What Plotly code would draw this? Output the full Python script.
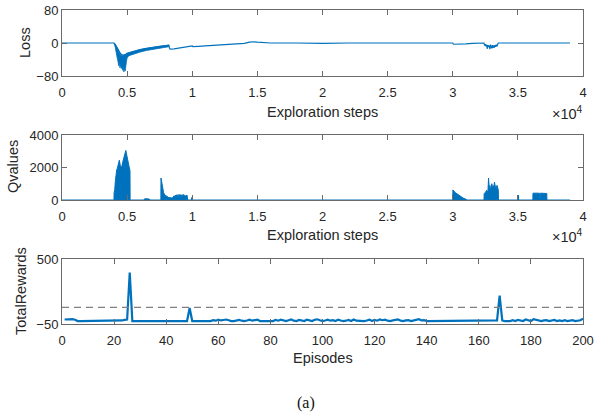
import plotly.graph_objects as go

# ---------------- data ----------------
# Loss (top panel): noisy band region (envelopes) + main trace
band_steps = [4000, 4100, 4200, 4250, 4300, 4350, 4400, 4450, 4500, 4550, 4600, 4650, 4700, 4750,
              4800, 4850, 4900, 4950, 5000, 5100, 5200, 5500, 6000, 6500, 7000, 7500, 8000, 8200]
band_upper = [0, -4, -10, -14, -18, -22, -25, -27, -29, -30, -31, -31, -30, -29,
              -28, -27, -27, -26, -25, -24, -23, -20, -16, -13, -10, -8, -6, -5]
band_lower = [0, -12, -30, -40, -45, -55, -48, -60, -52, -62, -55, -66, -58, -70,
              -62, -68, -55, -45, -36, -32, -30, -26, -22, -18, -15, -12, -10, -9]

loss_steps = [0, 2000, 4000, 4100, 4300, 4500, 4700, 4900, 5000, 5200, 5500, 6000, 6500, 7000,
              7500, 8000, 8200, 8250, 8300, 8600, 9000, 9500, 10000, 10050, 10100, 10500, 11000,
              12000, 13000, 14000, 14400, 14700, 15000, 15500, 16000, 18000, 20000, 22000, 25000,
              28000, 30000, 30050, 30500, 31000, 31500, 32000, 32400, 32450, 32500, 32550, 32600,
              32650, 32700, 32750, 32800, 32850, 32900, 32950, 33000, 33050, 33100, 33150, 33200,
              33250, 33300, 33350, 33400, 33450, 33500, 34000, 35000, 37000, 39000]
loss_values = [0, 0, 0, -4, -15, -26, -30, -28, -25, -23, -20, -16, -13, -10,
               -8, -6, -5, -12, -15, -14, -12, -10, -7, -9, -9, -8, -7,
               -5, -3, -1, 2, 3, 2, 1, 0, 0, -1, 0, 0,
               0, 0, -3, -3, -2, -1, -1, 0, -6, -3, -8, -4, -14, -5, -10, -6, -15, -4, -9,
               -13, -5, -12, -6, -11, -5, -9, -4, -8, -3, 0, 0, 0, 0, 0]

# Q values (middle panel)
q_steps = [0, 3990, 4000, 4050, 4100, 4150, 4200, 4250, 4300, 4350, 4400, 4450, 4500, 4550,
           4600, 4650, 4700, 4750, 4800, 4850, 4900, 4950, 5000, 5050, 5100, 5150, 5200, 5220,
           5230, 6300, 6350, 6700, 6750, 7590, 7600, 7650, 7700, 7750, 7800, 7900, 8000, 8100,
           8200, 8400, 8500, 8600, 8650, 8700, 8750, 8800, 8850, 8900, 8950, 9000, 9050, 9100,
           9150, 9200, 9250, 9300, 9350, 9400, 9500, 9600, 9650, 9950, 9960, 9980,
           30000, 30010, 30200, 30400, 30600, 30800, 31000, 31100,
           32400, 32410, 32500, 32600, 32700, 32750, 32800, 32850, 32900, 33000, 33050, 33100,
           33150, 33200, 33300, 33400, 33500, 33510, 35040, 35050, 35060,
           36150, 36160, 36650, 36670, 36700, 36720, 37220, 37230, 39000]
q_values = [0, 0, 450, 650, 1200, 1700, 1850, 1950, 2100, 2300, 2450, 2250, 1950, 2050,
            2100, 2300, 2500, 2700, 2800, 2900, 3050, 2800, 2600, 2450, 2250, 2050, 1900, 1800,
            0, 0, 80, 60, 0, 0, 1350, 1100, 800, 550, 450, 300, 250, 200,
            150, 130, 150, 260, 150, 300, 200, 320, 200, 330, 220, 340, 220, 330,
            200, 320, 220, 350, 250, 300, 250, 300, 0, 0, 150, 0,
            0, 620, 450, 330, 220, 120, 50, 0,
            0, 400, 450, 600, 500, 1350, 700, 900, 600, 1000, 700, 900,
            600, 1100, 700, 900, 600, 0, 0, 300, 0,
            0, 420, 420, 0, 0, 420, 400, 0, 0]

# Total rewards (bottom panel)
episodes = list(range(1, 201))
rewards = ([-12, -10, -13, -9, -14] + [-25] * 8 + [-23, -22, -24, -22, -25] + [-25] * 4 +
           [-20, -15, -12] + [385] + [-25] * 22 + [85] + [-25] * 7 +
           [-25, -18, -22, -14, -20, -16, -12, -18, -25, -25, -18, -15, -22, -25, -20, -14, -22, -18, -13, -25] +
           [-25, -25, -25] +
           [-20, -25, -15, -22, -14, -20, -25, -18, -12, -22, -25, -16, -20, -25, -14, -22] +
           [-25] +
           [-15, -10, -18, -25, -20, -14, -22, -18, -25, -13, -20, -25, -22, -16, -25, -12, -22] +
           [-25, -25, -25, -20, -13] +
           [-25, -15, -22, -12, -18, -14, -22, -25, -20, -16, -12, -22, -25, -20, -18, -25, -22, -14, -10, -20] +
           [-18] + [-25] * 27 + [-20, 190, -20] + [-25] * 3 +
           [-18, -25, -15, -20, -25, -12, -18, -25, -10, -14, -22, -25, -20, -18, -25, -22, -16, -25, -20, -25,
            -18, -25, -22, -18, -25, -20] +
           [-18, -5])
reward_threshold = [90]

step_ticks = [0, 5000, 10000, 15000, 20000, 25000, 30000, 35000, 40000]
step_labels = ['0', '0.5', '1', '1.5', '2', '2.5', '3', '3.5', '4']

# ---------------- figure ----------------
W, H = 595, 417
BLUE = '#0072BD'
AX = '#6a6a6a'
TXT = '#262626'
FONT = 'Liberation Sans, Arial, sans-serif'

def px_x(v):
    return v / W

def px_y(v):
    return 1 - v / H

fig = go.Figure()
fig.add_trace(go.Scatter(x=band_steps + band_steps[::-1], y=band_upper + band_lower[::-1],
                         fill='toself', fillcolor=BLUE, mode='lines',
                         line=dict(color=BLUE, width=0.8), xaxis='x', yaxis='y', hoverinfo='skip'))
fig.add_trace(go.Scatter(x=loss_steps, y=loss_values, mode='lines',
                         line=dict(color=BLUE, width=1.2), xaxis='x', yaxis='y'))
fig.add_trace(go.Scatter(x=q_steps, y=q_values, mode='lines', fill='tozeroy', fillcolor=BLUE,
                         line=dict(color=BLUE, width=1.0), xaxis='x2', yaxis='y2'))
fig.add_trace(go.Scatter(x=episodes, y=rewards, mode='lines',
                         line=dict(color=BLUE, width=2.2), xaxis='x3', yaxis='y3'))

fig.add_shape(type='line', xref='x3 domain', x0=0, x1=1, yref='y3',
              y0=reward_threshold[0], y1=reward_threshold[0],
              line=dict(color='#808080', width=1.3, dash='7px,5px'))

xdom = [px_x(62), px_x(583)]
common = dict(showline=True, linecolor=AX, linewidth=1, mirror='allticks', ticks='inside',
              ticklen=5, tickcolor=AX, tickwidth=1, showgrid=False, zeroline=False,
              automargin=False,
              tickfont=dict(family=FONT, size=13, color=TXT))
xcommon = dict(common, ticklabelstandoff=4)

fig.update_layout(
    template='none',
    width=W, height=H, margin=dict(l=0, r=0, t=0, b=0, autoexpand=False),
    paper_bgcolor='white', plot_bgcolor='white', showlegend=False,
    xaxis=dict(domain=xdom, anchor='y', range=[0, 40000], tickvals=step_ticks, ticktext=step_labels, **xcommon),
    yaxis=dict(domain=[px_y(76), px_y(10)], anchor='x', range=[-80, 80], tickvals=[-80, 0, 80], **common),
    xaxis2=dict(domain=xdom, anchor='y2', range=[0, 40000], tickvals=step_ticks, ticktext=step_labels, **xcommon),
    yaxis2=dict(domain=[px_y(200), px_y(135)], anchor='x2', range=[0, 4000], tickvals=[0, 2000, 4000], **common),
    xaxis3=dict(domain=xdom, anchor='y3', range=[0, 200], tickvals=list(range(0, 201, 20)), **xcommon),
    yaxis3=dict(domain=[px_y(324), px_y(259)], anchor='x3', range=[-50, 500], tickvals=[-50, 500], **common),
)

lab = dict(family=FONT, size=14.5, color=TXT)
ann = [
    dict(text='Exploration steps', x=px_x(322.5), y=px_y(112)),
    dict(text='Exploration steps', x=px_x(322.5), y=px_y(235)),
    dict(text='Episodes', x=px_x(322.5), y=px_y(358)),
    dict(text='Loss', x=px_x(25), y=px_y(43), textangle=-90),
    dict(text='Qvalues', x=px_x(13), y=px_y(167), textangle=-90),
    dict(text='TotalRewards', x=px_x(21), y=px_y(291), textangle=-90),
]
for a in ann:
    fig.add_annotation(xref='paper', yref='paper', showarrow=False, xanchor='center', yanchor='middle',
                       font=lab, **a)
for yy in [113, 236]:
    fig.add_annotation(xref='paper', yref='paper', showarrow=False, xanchor='right', yanchor='middle',
                       x=px_x(585), y=px_y(yy), text='×10<sup>4</sup>',
                       font=dict(family=FONT, size=14.5, color=TXT))
fig.add_annotation(xref='paper', yref='paper', showarrow=False, xanchor='center', yanchor='middle',
                   x=px_x(306), y=px_y(403), text='(a)',
                   font=dict(family='Liberation Serif, Times New Roman, serif', size=16, color='#111111'))

fig.write_html('out.html')
